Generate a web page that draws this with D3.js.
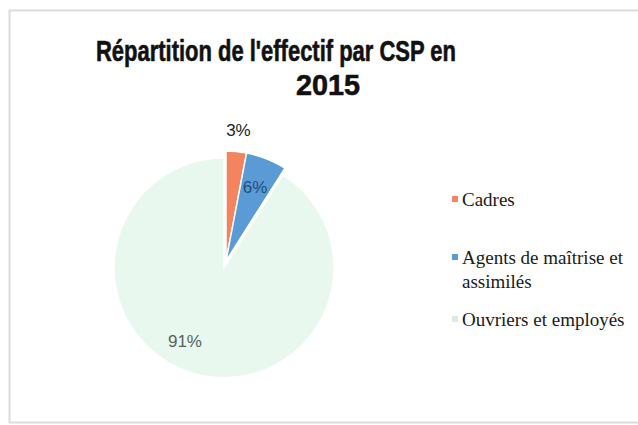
<!DOCTYPE html>
<html>
<head>
<meta charset="utf-8">
<script src="https://cdn.jsdelivr.net/npm/d3@7"></script>
<style>
  body { margin: 0; background: #fff; }
  svg { display: block; }
</style>
</head>
<body>
<svg id="chart" width="638" height="425"></svg>
<script>
// data
var categories = ["Cadres", "Agents de maîtrise et assimilés", "Ouvriers et employés"];
var shares = [3, 6, 91];
var colours = ["#f4845f", "#5b9bd5", "#e8f8ef"];
var legendLines = [["Cadres"], ["Agents de maîtrise et", "assimilés"], ["Ouvriers et employés"]];
var titleLines = ["Répartition de l'effectif par CSP en", "2015"];

var svg = d3.select("#chart");

// chart frame
svg.append("rect")
    .attr("x", 9.5).attr("y", 10.5)
    .attr("width", 640).attr("height", 412)
    .attr("fill", "#fff")
    .attr("stroke", "#dcdcdc")
    .attr("stroke-width", 2);

// title - bold face squeezed to the widths seen in the picture
var titleWidth = [360, 64];
var titleX = [276, 328];
svg.append("g").selectAll("text")
    .data(titleLines)
    .enter().append("text")
        .attr("x", function(d, i) { return titleX[i]; })
        .attr("y", function(d, i) { return 61 + i * 34; })
        .attr("text-anchor", "middle")
        .attr("font-family", "'Liberation Sans', Arial, sans-serif")
        .attr("font-weight", "bold")
        .attr("font-size", 29)
        .attr("textLength", function(d, i) { return titleWidth[i]; })
        .attr("lengthAdjust", "spacingAndGlyphs")
        .attr("fill", "#111")
        .attr("stroke", "#111")
        .attr("stroke-width", 0.6)
        .text(function(d) { return d; });

var cx = 226, cy = 261, r = 110;
var pie = d3.pie().sort(null).value(function(d) { return d; });
var arcs = pie(shares);
var arc = d3.arc().innerRadius(0).outerRadius(r);

// the big slice sits a little away from the centre
var explode = [0, 0, 7];

var g = svg.append("g").attr("transform", "translate(" + cx + "," + cy + ")");

g.selectAll("path")
    .data(arcs)
    .enter().append("path")
        .attr("d", arc)
        .attr("fill", function(d, i) { return colours[i]; })
        .attr("stroke", "#fff")
        .attr("stroke-width", 1.5)
        .attr("transform", function(d, i) {
            var a = (d.startAngle + d.endAngle) / 2;
            return "translate(" + (Math.sin(a) * explode[i]) + "," + (-Math.cos(a) * explode[i]) + ")";
        });

// data labels
var labelRadius = [r + 22, r * 0.72, r * 0.82];
var labelShift = [0, 0, 0.19];   // radians, the 91% label sits a bit left of the middle
var labelColour = ["#222", "#1f4e79", "#55635c"];
function labelAngle(d, i) { return (d.startAngle + d.endAngle) / 2 + labelShift[i]; }
g.selectAll("text.lbl")
    .data(arcs)
    .enter().append("text")
        .attr("class", "lbl")
        .attr("x", function(d, i) { return Math.sin(labelAngle(d, i)) * labelRadius[i]; })
        .attr("y", function(d, i) { return -Math.cos(labelAngle(d, i)) * labelRadius[i]; })
        .attr("dy", "0.35em")
        .attr("text-anchor", "middle")
        .attr("font-family", "'Liberation Sans', Arial, sans-serif")
        .attr("font-size", 17)
        .attr("fill", function(d, i) { return labelColour[i]; })
        .text(function(d) { return d.data + "%"; });

// legend
var legendY = [200, 258, 320];
var lg = svg.append("g");
var item = lg.selectAll("g")
    .data(categories)
    .enter().append("g")
        .attr("transform", function(d, i) { return "translate(452," + legendY[i] + ")"; });
item.append("rect")
    .attr("x", 0).attr("y", -4)
    .attr("width", 6).attr("height", 6)
    .attr("fill", function(d, i) { return i == 2 ? "#e2e8e4" : colours[i]; });
item.each(function(d, i) {
    d3.select(this).selectAll("text")
        .data(legendLines[i])
        .enter().append("text")
            .attr("x", 10)
            .attr("y", function(t, j) { return j * 24 + 6; })
            .attr("font-family", "'Liberation Serif', 'DejaVu Serif', serif")
            .attr("font-size", 19)
            .attr("fill", "#1a1a1a")
            .text(function(t) { return t; });
});
</script>
</body>
</html>
